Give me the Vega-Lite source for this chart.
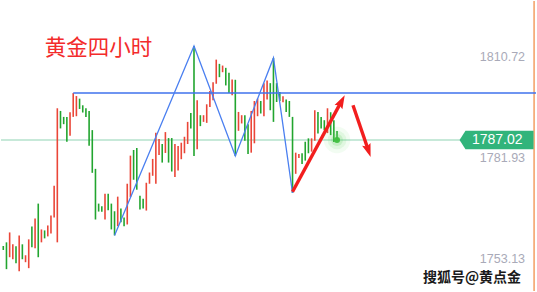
{
  "$schema": "https://vega.github.io/schema/vega-lite/v6.json",
  "width": 537,
  "height": 292,
  "autosize": {"type": "fit", "contains": "padding"},
  "padding": 0,
  "background": "#ffffff",
  "config": {"view": {"stroke": null}},
  "data": {"values": [{}]},
  "datasets": {
    "candles": [
      {"i":0,"o":1756.89,"h":1756.89,"l":1755.76,"c":1755.76},
      {"i":1,"o":1757.93,"h":1757.93,"l":1750.31,"c":1750.31},
      {"i":2,"o":1753.70,"h":1760.75,"l":1753.70,"c":1760.75},
      {"i":3,"o":1753.13,"h":1757.37,"l":1753.13,"c":1757.37},
      {"i":4,"o":1756.80,"h":1756.80,"l":1752.00,"c":1752.00},
      {"i":5,"o":1749.74,"h":1759.91,"l":1749.74,"c":1759.91},
      {"i":6,"o":1757.37,"h":1757.37,"l":1753.13,"c":1753.13},
      {"i":7,"o":1752.29,"h":1754.26,"l":1752.29,"c":1754.26},
      {"i":8,"o":1750.59,"h":1758.78,"l":1750.59,"c":1758.78},
      {"i":9,"o":1762.45,"h":1762.45,"l":1756.52,"c":1756.52},
      {"i":10,"o":1756.24,"h":1764.71,"l":1756.24,"c":1764.71},
      {"i":11,"o":1768.94,"h":1768.94,"l":1753.70,"c":1753.70},
      {"i":12,"o":1757.93,"h":1761.60,"l":1757.93,"c":1761.60},
      {"i":13,"o":1761.32,"h":1761.32,"l":1759.06,"c":1759.06},
      {"i":14,"o":1759.62,"h":1762.73,"l":1759.62,"c":1762.73},
      {"i":15,"o":1760.47,"h":1765.55,"l":1760.47,"c":1765.55},
      {"i":16,"o":1764.99,"h":1774.02,"l":1764.99,"c":1774.02},
      {"i":17,"o":1757.93,"h":1796.04,"l":1757.93,"c":1796.04},
      {"i":18,"o":1795.28,"h":1795.28,"l":1790.31,"c":1790.31},
      {"i":19,"o":1793.59,"h":1793.59,"l":1791.52,"c":1791.52},
      {"i":20,"o":1793.59,"h":1793.59,"l":1786.53,"c":1786.53},
      {"i":21,"o":1788.22,"h":1794.91,"l":1788.22,"c":1794.91},
      {"i":22,"o":1793.59,"h":1800.36,"l":1793.59,"c":1800.36},
      {"i":23,"o":1793.78,"h":1799.51,"l":1793.78,"c":1799.51},
      {"i":24,"o":1798.78,"h":1798.78,"l":1795.84,"c":1795.84},
      {"i":25,"o":1796.89,"h":1796.89,"l":1794.83,"c":1794.83},
      {"i":26,"o":1796.04,"h":1796.04,"l":1793.59,"c":1793.59},
      {"i":27,"o":1795.28,"h":1795.28,"l":1785.40,"c":1785.40},
      {"i":28,"o":1789.83,"h":1789.83,"l":1777.69,"c":1777.69},
      {"i":29,"o":1778.82,"h":1778.82,"l":1764.42,"c":1764.42},
      {"i":30,"o":1768.94,"h":1768.94,"l":1766.68,"c":1766.68},
      {"i":31,"o":1768.18,"h":1768.18,"l":1766.60,"c":1766.60},
      {"i":32,"o":1764.42,"h":1771.76,"l":1764.42,"c":1771.76},
      {"i":33,"o":1771.76,"h":1771.76,"l":1767.05,"c":1767.05},
      {"i":34,"o":1768.94,"h":1768.94,"l":1761.60,"c":1761.60},
      {"i":35,"o":1766.77,"h":1766.77,"l":1759.91,"c":1759.91},
      {"i":36,"o":1762.53,"h":1770.92,"l":1762.53,"c":1770.92},
      {"i":37,"o":1767.53,"h":1767.53,"l":1763.66,"c":1763.66},
      {"i":38,"o":1764.99,"h":1764.99,"l":1762.53,"c":1762.53},
      {"i":39,"o":1763.01,"h":1774.59,"l":1763.01,"c":1774.59},
      {"i":40,"o":1770.83,"h":1782.58,"l":1770.83,"c":1782.58},
      {"i":41,"o":1784.18,"h":1784.18,"l":1775.72,"c":1775.72},
      {"i":42,"o":1784.75,"h":1784.75,"l":1772.89,"c":1772.89},
      {"i":43,"o":1771.20,"h":1771.20,"l":1767.25,"c":1767.25},
      {"i":44,"o":1770.35,"h":1770.35,"l":1767.53,"c":1767.53},
      {"i":45,"o":1766.96,"h":1774.87,"l":1766.96,"c":1774.87},
      {"i":46,"o":1774.59,"h":1777.78,"l":1774.59,"c":1777.78},
      {"i":47,"o":1776.85,"h":1781.64,"l":1776.85,"c":1781.64},
      {"i":48,"o":1774.59,"h":1789.07,"l":1774.59,"c":1789.07},
      {"i":49,"o":1782.77,"h":1787.29,"l":1782.77,"c":1787.29},
      {"i":50,"o":1785.88,"h":1785.88,"l":1780.60,"c":1780.60},
      {"i":51,"o":1783.34,"h":1789.27,"l":1783.34,"c":1789.27},
      {"i":52,"o":1787.57,"h":1787.57,"l":1780.60,"c":1780.60},
      {"i":53,"o":1787.57,"h":1787.57,"l":1778.06,"c":1778.06},
      {"i":54,"o":1776.48,"h":1785.88,"l":1776.48,"c":1785.88},
      {"i":55,"o":1778.34,"h":1785.31,"l":1778.34,"c":1785.31},
      {"i":56,"o":1781.56,"h":1786.25,"l":1781.56,"c":1786.25},
      {"i":57,"o":1783.25,"h":1787.94,"l":1783.25,"c":1787.94},
      {"i":58,"o":1785.88,"h":1792.17,"l":1785.88,"c":1792.17},
      {"i":59,"o":1794.71,"h":1794.71,"l":1790.31,"c":1790.31},
      {"i":60,"o":1813.74,"h":1813.74,"l":1782.49,"c":1782.49},
      {"i":61,"o":1784.38,"h":1798.30,"l":1784.38,"c":1798.30},
      {"i":62,"o":1794.07,"h":1794.07,"l":1790.96,"c":1790.96},
      {"i":63,"o":1792.17,"h":1794.07,"l":1792.17,"c":1794.07},
      {"i":64,"o":1791.89,"h":1797.17,"l":1791.89,"c":1797.17},
      {"i":65,"o":1796.41,"h":1800.93,"l":1796.41,"c":1800.93},
      {"i":66,"o":1798.30,"h":1803.47,"l":1798.30,"c":1803.47},
      {"i":67,"o":1803.01,"h":1809.87,"l":1803.01,"c":1809.87},
      {"i":68,"o":1808.66,"h":1808.66,"l":1804.88,"c":1804.88},
      {"i":69,"o":1806.29,"h":1808.18,"l":1806.29,"c":1808.18},
      {"i":70,"o":1807.53,"h":1807.53,"l":1802.53,"c":1802.53},
      {"i":71,"o":1806.12,"h":1806.12,"l":1800.36,"c":1800.36},
      {"i":72,"o":1799.71,"h":1804.23,"l":1799.71,"c":1804.23},
      {"i":73,"o":1804.14,"h":1804.14,"l":1782.49,"c":1782.49},
      {"i":74,"o":1789.63,"h":1795.00,"l":1789.63,"c":1795.00},
      {"i":75,"o":1791.72,"h":1794.07,"l":1791.72,"c":1794.07},
      {"i":76,"o":1794.07,"h":1794.07,"l":1786.81,"c":1786.81},
      {"i":77,"o":1791.52,"h":1791.52,"l":1783.06,"c":1783.06},
      {"i":78,"o":1783.42,"h":1795.28,"l":1783.42,"c":1795.28},
      {"i":79,"o":1786.08,"h":1798.10,"l":1786.08,"c":1798.10},
      {"i":80,"o":1793.78,"h":1798.78,"l":1793.78,"c":1798.78},
      {"i":81,"o":1798.10,"h":1798.10,"l":1794.55,"c":1794.55},
      {"i":82,"o":1793.78,"h":1803.18,"l":1793.78,"c":1803.18},
      {"i":83,"o":1798.50,"h":1803.95,"l":1798.50,"c":1803.95},
      {"i":84,"o":1803.18,"h":1803.18,"l":1795.48,"c":1795.48},
      {"i":85,"o":1810.35,"h":1810.35,"l":1792.17,"c":1792.17},
      {"i":86,"o":1803.18,"h":1803.18,"l":1797.82,"c":1797.82},
      {"i":87,"o":1800.64,"h":1800.64,"l":1798.10,"c":1798.10},
      {"i":88,"o":1797.74,"h":1799.43,"l":1797.74,"c":1799.43},
      {"i":89,"o":1798.50,"h":1798.50,"l":1795.00,"c":1795.00},
      {"i":90,"o":1798.10,"h":1798.10,"l":1793.59,"c":1793.59},
      {"i":91,"o":1793.59,"h":1793.59,"l":1771.96,"c":1771.96},
      {"i":92,"o":1777.41,"h":1783.42,"l":1777.41,"c":1783.42},
      {"i":93,"o":1781.93,"h":1783.06,"l":1781.93,"c":1783.06},
      {"i":94,"o":1783.25,"h":1783.25,"l":1780.23,"c":1780.23},
      {"i":95,"o":1786.53,"h":1786.53,"l":1781.16,"c":1781.16},
      {"i":96,"o":1787.49,"h":1787.49,"l":1783.25,"c":1783.25},
      {"i":97,"o":1783.71,"h":1787.49,"l":1783.71,"c":1787.49},
      {"i":98,"o":1786.81,"h":1795.48,"l":1786.81,"c":1795.48},
      {"i":99,"o":1795.00,"h":1795.00,"l":1788.90,"c":1788.90},
      {"i":100,"o":1793.59,"h":1793.59,"l":1790.31,"c":1790.31},
      {"i":101,"o":1792.65,"h":1792.65,"l":1789.83,"c":1789.83},
      {"i":102,"o":1788.98,"h":1796.04,"l":1788.98,"c":1796.04},
      {"i":103,"o":1794.91,"h":1794.91,"l":1788.42,"c":1788.42},
      {"i":104,"o":1792.65,"h":1792.65,"l":1786.44,"c":1786.44},
      {"i":105,"o":1789.30,"h":1789.55,"l":1786.90,"c":1787.02}
    ],
    "swings": [
      {"i":35,"p":1759.91},
      {"i":60,"p":1813.74},
      {"i":73,"p":1782.49},
      {"i":85,"p":1810.35},
      {"i":91,"p":1771.96}
    ],
    "arrows": [
      {"arrow":"up","i":91,"p":1772.3},
      {"arrow":"up","i":105.91,"p":1797.23},
      {"arrow":"down","i":110.02,"p":1796.89},
      {"arrow":"down","i":114.56,"p":1784.89}
    ],
    "levels": [
      {"price":1810.72},
      {"price":1781.93},
      {"price":1753.13}
    ]
  },
  "layer": [
    {
      "mark": {"type": "rule", "color": "#f4a46c", "strokeWidth": 1.6},
      "encoding": {
        "x": {"datum": 167.0, "type": "quantitative", "scale": {"domain": [-0.72, 167.6], "nice": false, "zero": false}, "axis": null}
      }
    },
    {
      "mark": {"type": "rule", "color": "#8fd3b3", "strokeWidth": 1},
      "encoding": {
        "x": {"datum": -0.72, "type": "quantitative", "scale": {"domain": [-0.72, 167.6], "nice": false, "zero": false}, "axis": null},
        "x2": {"datum": 143.7},
        "y": {"datum": 1787.02, "type": "quantitative", "scale": {"domain": [1744.10, 1826.53], "nice": false, "zero": false}, "axis": null}
      }
    },
    {
      "data": {"name": "candles"},
      "mark": {"type": "rule", "strokeWidth": 1.6},
      "encoding": {
        "x": {"field": "i", "type": "quantitative", "scale": {"domain": [-0.72, 167.6], "nice": false, "zero": false}, "axis": null},
        "y": {"field": "l", "type": "quantitative", "scale": {"domain": [1744.10, 1826.53], "nice": false, "zero": false}, "axis": null},
        "y2": {"field": "h"},
        "color": {"condition": {"test": "datum.c > datum.o", "value": "#ea4638"}, "value": "#22a52f"}
      }
    },
    {
      "mark": {"type": "rule", "color": "#3f72ec", "strokeWidth": 1.6},
      "encoding": {
        "x": {"datum": 22, "type": "quantitative", "scale": {"domain": [-0.72, 167.6], "nice": false, "zero": false}, "axis": null},
        "x2": {"datum": 167.6},
        "y": {"datum": 1800.36, "type": "quantitative", "scale": {"domain": [1744.10, 1826.53], "nice": false, "zero": false}, "axis": null}
      }
    },
    {
      "data": {"name": "swings"},
      "mark": {"type": "line", "color": "#4a7ff0", "strokeWidth": 1.3},
      "encoding": {
        "x": {"field": "i", "type": "quantitative", "scale": {"domain": [-0.72, 167.6], "nice": false, "zero": false}, "axis": null},
        "y": {"field": "p", "type": "quantitative", "scale": {"domain": [1744.10, 1826.53], "nice": false, "zero": false}, "axis": null}
      }
    },
    {
      "data": {"name": "arrows"},
      "mark": {"type": "line", "color": "#f21e1e", "strokeWidth": 3.4},
      "encoding": {
        "x": {"field": "i", "type": "quantitative", "scale": {"domain": [-0.72, 167.6], "nice": false, "zero": false}, "axis": null},
        "y": {"field": "p", "type": "quantitative", "scale": {"domain": [1744.10, 1826.53], "nice": false, "zero": false}, "axis": null},
        "detail": {"field": "arrow"}
      }
    },
    {
      "mark": {"type": "point", "shape": "M0,0L0.7,2.1L0,1.75L-0.7,2.1Z", "size": 160, "angle": 28, "filled": true, "opacity": 1, "color": "#f21e1e"},
      "encoding": {
        "x": {"datum": 107.42, "type": "quantitative", "scale": {"domain": [-0.72, 167.6], "nice": false, "zero": false}, "axis": null},
        "y": {"datum": 1799.71, "type": "quantitative", "scale": {"domain": [1744.10, 1826.53], "nice": false, "zero": false}, "axis": null}
      }
    },
    {
      "mark": {"type": "point", "shape": "M0,0L0.7,2.1L0,1.75L-0.7,2.1Z", "size": 160, "angle": 161, "filled": true, "opacity": 1, "color": "#f21e1e"},
      "encoding": {
        "x": {"datum": 115.57, "type": "quantitative", "scale": {"domain": [-0.72, 167.6], "nice": false, "zero": false}, "axis": null},
        "y": {"datum": 1782.21, "type": "quantitative", "scale": {"domain": [1744.10, 1826.53], "nice": false, "zero": false}, "axis": null}
      }
    },
    {
      "mark": {"type": "point", "shape": "circle", "size": 700, "filled": true, "opacity": 0.08, "color": "#5fd35f"},
      "encoding": {
        "x": {"datum": 105, "type": "quantitative", "scale": {"domain": [-0.72, 167.6], "nice": false, "zero": false}, "axis": null},
        "y": {"datum": 1787.02, "type": "quantitative", "scale": {"domain": [1744.10, 1826.53], "nice": false, "zero": false}, "axis": null}
      }
    },
    {
      "mark": {"type": "point", "shape": "circle", "size": 350, "filled": true, "opacity": 0.12, "color": "#5fd35f"},
      "encoding": {
        "x": {"datum": 105, "type": "quantitative", "scale": {"domain": [-0.72, 167.6], "nice": false, "zero": false}, "axis": null},
        "y": {"datum": 1787.02, "type": "quantitative", "scale": {"domain": [1744.10, 1826.53], "nice": false, "zero": false}, "axis": null}
      }
    },
    {
      "mark": {"type": "point", "shape": "circle", "size": 140, "filled": true, "opacity": 0.2, "color": "#5fd35f"},
      "encoding": {
        "x": {"datum": 105, "type": "quantitative", "scale": {"domain": [-0.72, 167.6], "nice": false, "zero": false}, "axis": null},
        "y": {"datum": 1787.02, "type": "quantitative", "scale": {"domain": [1744.10, 1826.53], "nice": false, "zero": false}, "axis": null}
      }
    },
    {
      "mark": {"type": "point", "shape": "circle", "size": 36, "filled": true, "opacity": 0.95, "color": "#3fbf3f"},
      "encoding": {
        "x": {"datum": 105, "type": "quantitative", "scale": {"domain": [-0.72, 167.6], "nice": false, "zero": false}, "axis": null},
        "y": {"datum": 1787.02, "type": "quantitative", "scale": {"domain": [1744.10, 1826.53], "nice": false, "zero": false}, "axis": null}
      }
    },
    {
      "mark": {"type": "point", "shape": "M-1,0L-0.84,-0.25L1,-0.25L1,0.25L-0.84,0.25Z", "size": 5476, "filled": true, "opacity": 1, "color": "#31b47b"},
      "encoding": {
        "x": {"datum": 155.19, "type": "quantitative", "scale": {"domain": [-0.72, 167.6], "nice": false, "zero": false}, "axis": null},
        "y": {"datum": 1787.02, "type": "quantitative", "scale": {"domain": [1744.10, 1826.53], "nice": false, "zero": false}, "axis": null}
      }
    },
    {
      "mark": {"type": "text", "text": "1787.02", "color": "#ffffff", "fontSize": 14, "font": "Liberation Sans", "align": "center", "baseline": "middle"},
      "encoding": {
        "x": {"datum": 155.4, "type": "quantitative", "scale": {"domain": [-0.72, 167.6], "nice": false, "zero": false}, "axis": null},
        "y": {"datum": 1787.02, "type": "quantitative", "scale": {"domain": [1744.10, 1826.53], "nice": false, "zero": false}, "axis": null}
      }
    },
    {
      "data": {"name": "levels"},
      "mark": {"type": "text", "color": "#a9aab8", "fontSize": 12.5, "font": "Liberation Sans", "align": "right", "baseline": "middle"},
      "encoding": {
        "x": {"datum": 164.15, "type": "quantitative", "scale": {"domain": [-0.72, 167.6], "nice": false, "zero": false}, "axis": null},
        "y": {"field": "price", "type": "quantitative", "scale": {"domain": [1744.10, 1826.53], "nice": false, "zero": false}, "axis": null},
        "text": {"field": "price", "type": "quantitative", "format": ".2f"}
      }
    },
    {
      "mark": {"type": "text", "text": "黄金四小时", "color": "#f32b2b", "fontSize": 21.5, "font": "Noto Sans CJK SC", "align": "left", "baseline": "middle"},
      "encoding": {
        "x": {"datum": 13.07, "type": "quantitative", "scale": {"domain": [-0.72, 167.6], "nice": false, "zero": false}, "axis": null},
        "y": {"datum": 1812.98, "type": "quantitative", "scale": {"domain": [1744.10, 1826.53], "nice": false, "zero": false}, "axis": null}
      }
    },
    {
      "mark": {"type": "text", "text": "搜狐号@黄点金", "color": "#1a1a1a", "fontSize": 14, "fontWeight": "bold", "font": "Noto Sans CJK SC", "align": "right", "baseline": "middle"},
      "encoding": {
        "x": {"datum": 162.9, "type": "quantitative", "scale": {"domain": [-0.72, 167.6], "nice": false, "zero": false}, "axis": null},
        "y": {"datum": 1747.77, "type": "quantitative", "scale": {"domain": [1744.10, 1826.53], "nice": false, "zero": false}, "axis": null}
      }
    }
  ]
}
